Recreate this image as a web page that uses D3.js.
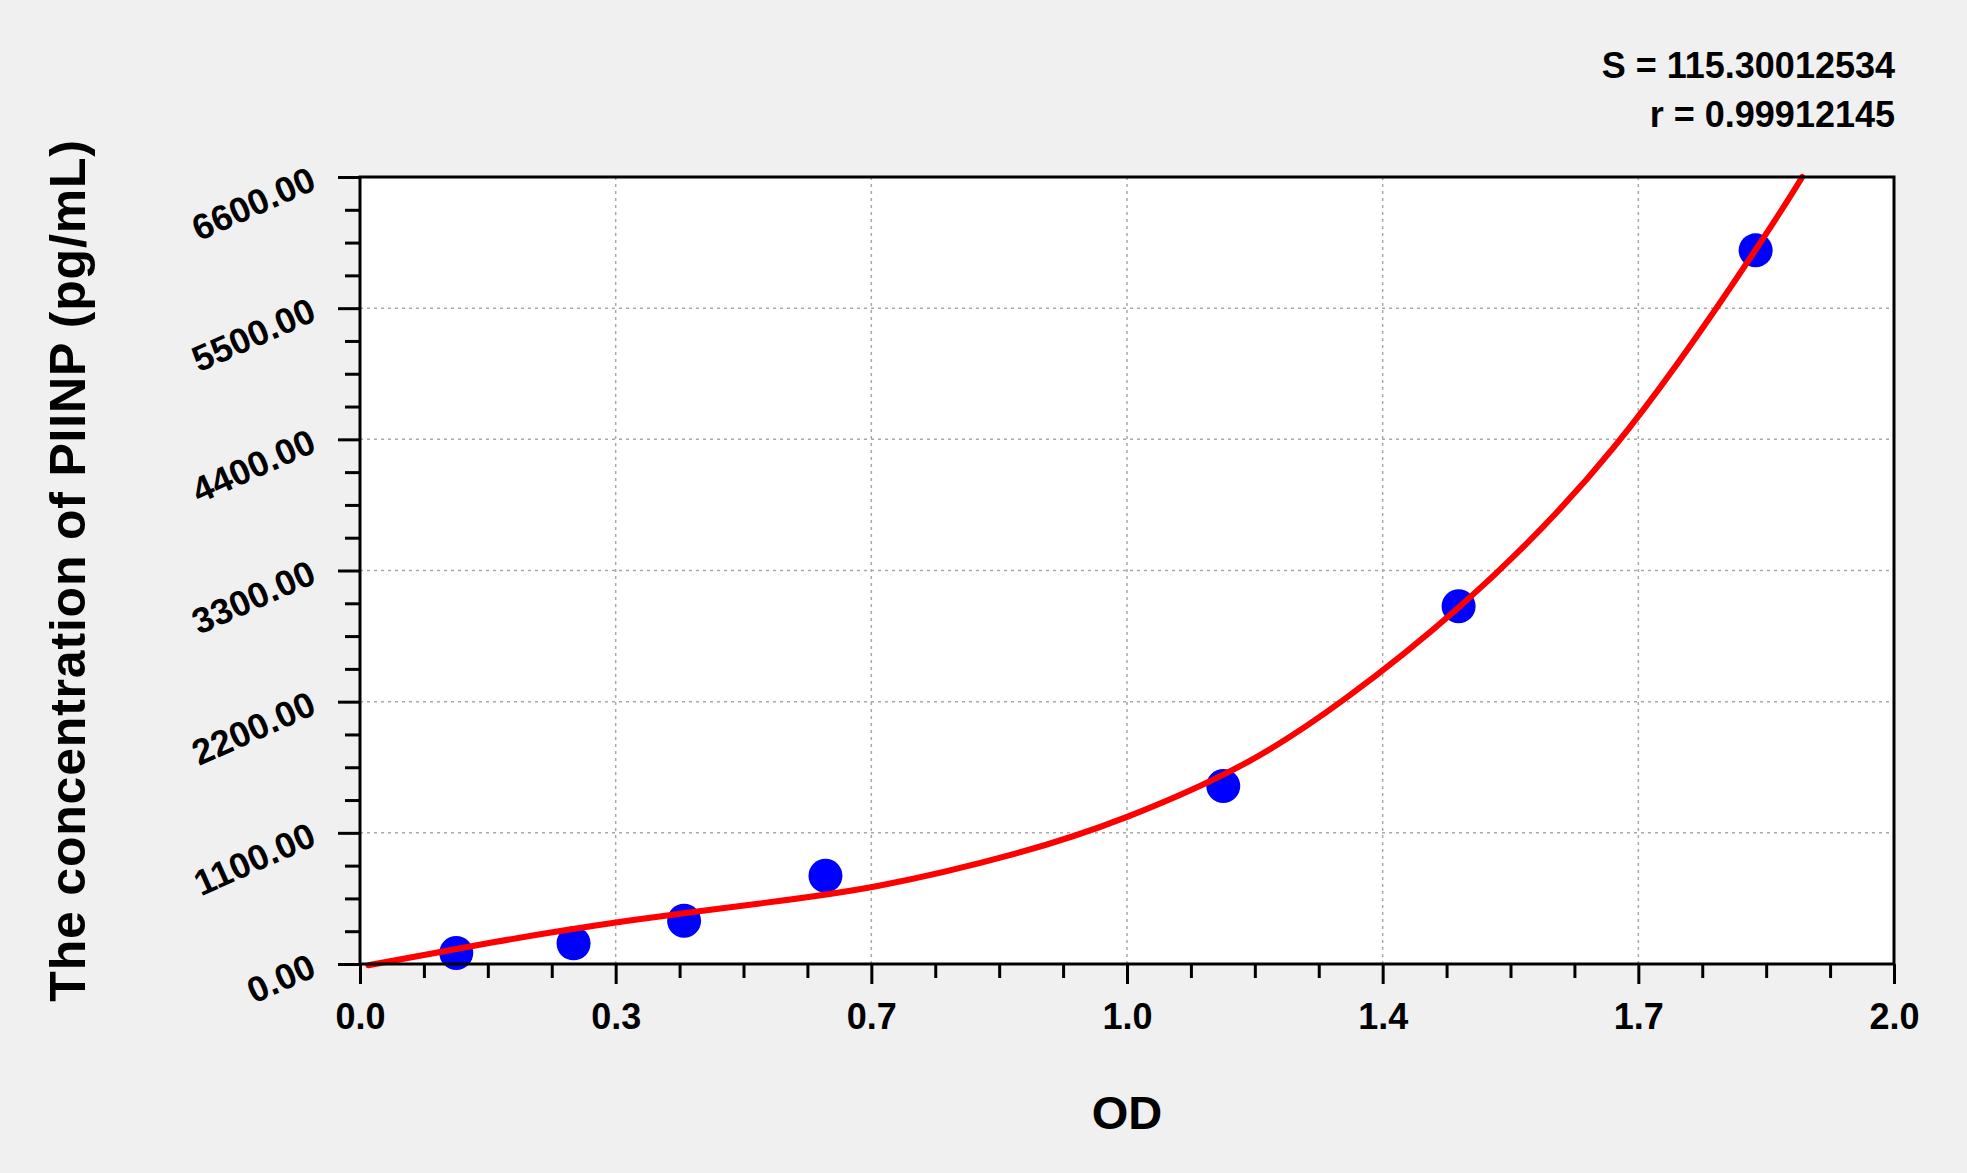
<!DOCTYPE html>
<html><head><meta charset="utf-8">
<script src="https://cdn.jsdelivr.net/npm/d3@7/dist/d3.min.js"></script>
<style>
html,body{margin:0;padding:0;background:#f0f0f0;}
svg{display:block;}
text{font-family:"Liberation Sans",Arial,sans-serif;font-weight:bold;fill:#000;}
</style>
</head><body>
<svg id="chart" width="1967" height="1173"></svg>
<script>
// ---- data ----
const standardOD   = [0.128, 0.284, 0.431, 0.619, 1.148, 1.461, 1.856];
const standardConc = [92, 173, 363, 740, 1493, 3000, 5985];

const fitOD   = [0.011, 0.177, 0.354, 0.532, 0.690, 0.869, 1.020, 1.179, 1.312, 1.461, 1.667, 1.856, 1.918];
const fitConc = [-10,   182,   360,   508,   656,   921,   1234,  1689,  2234,  2990,  4330,  5990,  6600];

const xTickValues = [0, 0.34, 0.68, 1.02, 1.36, 1.70, 2.04];
const xTickLabels = ["0.0", "0.3", "0.7", "1.0", "1.4", "1.7", "2.0"];
const yTickValues = [0, 1100, 2200, 3300, 4400, 5500, 6600];
const yTickLabels = ["0.00", "1100.00", "2200.00", "3300.00", "4400.00", "5500.00", "6600.00"];
const statLines = ["S = 115.30012534", "r = 0.99912145"];
const xTitle = "OD";
const yTitle = "The concentration of PIINP (pg/mL)";

// ---- layout ----
const L = 360, R = 1894, T = 177, B = 964;
const svg = d3.select("#chart");

const x = d3.scaleLinear().domain([0, 2.04]).range([L, R]);
const y = d3.scaleLinear().domain([0, 6600]).range([B, T]);

svg.append("rect").attr("width", 1967).attr("height", 1173).attr("fill", "#f0f0f0");
svg.append("rect").attr("x", L).attr("y", T).attr("width", R - L).attr("height", B - T).attr("fill", "#fff");

// grid
const grid = svg.append("g").attr("stroke", "#a8a8a8").attr("stroke-width", 1.5).attr("stroke-dasharray", "3,4");
grid.selectAll("line.gx").data(xTickValues.slice(1, -1)).join("line")
  .attr("x1", d => x(d)).attr("x2", d => x(d)).attr("y1", T).attr("y2", B);
grid.selectAll("line.gy").data(yTickValues.slice(1, -1)).join("line")
  .attr("y1", d => y(d)).attr("y2", d => y(d)).attr("x1", L).attr("x2", R);

// points
svg.append("g").selectAll("circle").data(standardOD.map((d, i) => [d, standardConc[i]])).join("circle")
  .attr("cx", d => x(d[0])).attr("cy", d => y(d[1])).attr("r", 17).attr("fill", "#0000ff");

// fitted curve
const line = d3.line().x(d => x(d[0])).y(d => y(d[1])).curve(d3.curveNatural);
svg.append("path").datum(fitOD.map((d, i) => [d, fitConc[i]]))
  .attr("d", line).attr("fill", "none").attr("stroke", "#ff0000").attr("stroke-width", 6)
  .attr("stroke-linecap", "round");

// frame
svg.append("rect").attr("x", L).attr("y", T).attr("width", R - L).attr("height", B - T)
  .attr("fill", "none").attr("stroke", "#000").attr("stroke-width", 3);

// x axis
const xMinor = d3.range(0, 2.04 + 1e-9, 0.085).filter(v => !xTickValues.some(t => Math.abs(t - v) < 1e-6));
const gxMinor = svg.append("g").attr("transform", `translate(0,${B})`)
  .call(d3.axisBottom(x).tickValues(xMinor).tickSize(14).tickFormat(""));
const gx = svg.append("g").attr("transform", `translate(0,${B})`)
  .call(d3.axisBottom(x).tickValues(xTickValues).tickSize(20).tickFormat((d, i) => xTickLabels[i]));
[gxMinor, gx].forEach(g => { g.select(".domain").remove(); g.selectAll("line").attr("stroke", "#000").attr("stroke-width", 3); });
gx.selectAll("text").attr("y", 65).attr("dy", null).attr("font-size", 36)
  .style("font-family", '"Liberation Sans", Arial, sans-serif').style("font-weight", "bold");

// y axis
const yMinor = d3.range(0, 6600 + 1e-9, 275).filter(v => !yTickValues.includes(v));
const gyMinor = svg.append("g").attr("transform", `translate(${L},0)`)
  .call(d3.axisLeft(y).tickValues(yMinor).tickSize(15).tickFormat(""));
const gy = svg.append("g").attr("transform", `translate(${L},0)`)
  .call(d3.axisLeft(y).tickValues(yTickValues).tickSize(22).tickFormat((d, i) => yTickLabels[i]));
[gyMinor, gy].forEach(g => { g.select(".domain").remove(); g.selectAll("line").attr("stroke", "#000").attr("stroke-width", 3); });
gy.selectAll("text").attr("x", null).attr("dy", null).attr("text-anchor", "end")
  .attr("transform", "translate(-42,11) rotate(-24)").attr("font-size", 36)
  .style("font-family", '"Liberation Sans", Arial, sans-serif').style("font-weight", "bold");

// titles
svg.append("text").attr("x", (L + R) / 2).attr("y", 1129).attr("text-anchor", "middle")
  .attr("font-size", 47).text(xTitle);
svg.append("text").attr("transform", `translate(85,${(T + B) / 2}) rotate(-90)`).attr("text-anchor", "middle")
  .attr("font-size", 50).attr("letter-spacing", 0.8).text(yTitle);

// stats
svg.append("g").selectAll("text").data(statLines).join("text")
  .attr("x", 1895).attr("y", (d, i) => 78 + i * 49).attr("text-anchor", "end")
  .attr("font-size", 36).text(d => d);
</script>
</body></html>
